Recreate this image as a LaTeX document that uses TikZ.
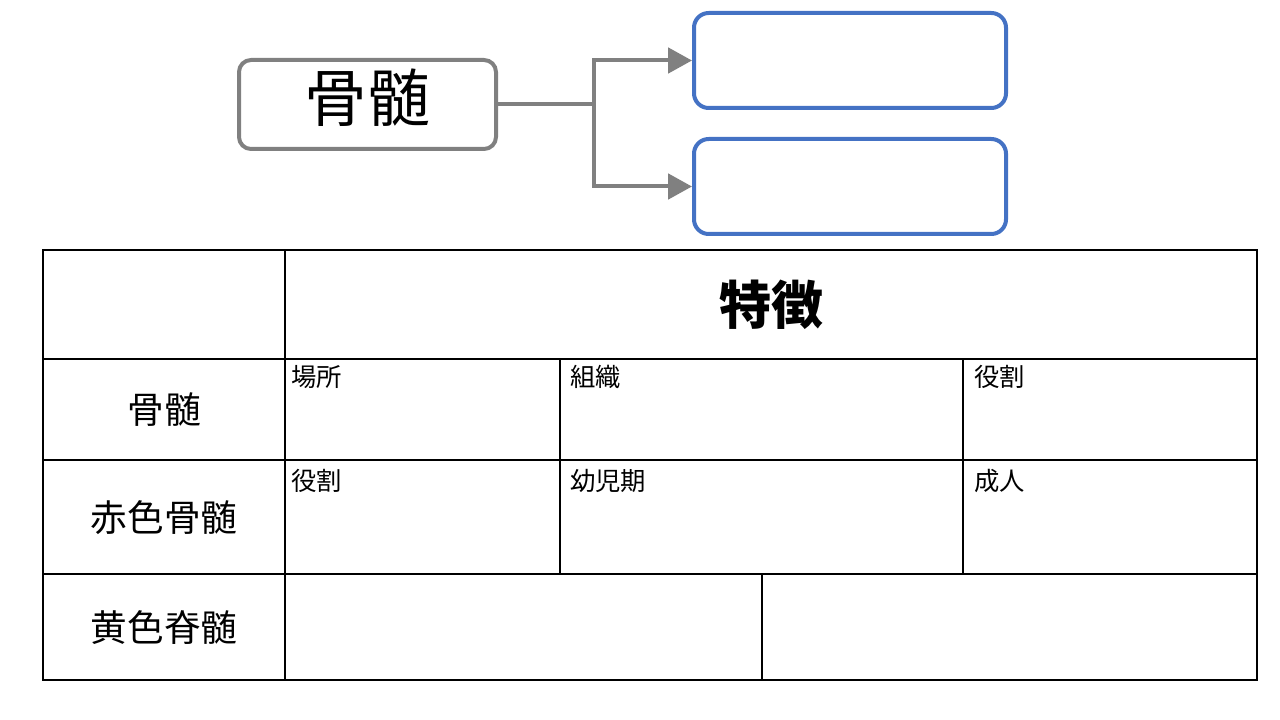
\documentclass[tikz,border=0pt]{standalone}
\usepackage{fontspec}
\setmainfont{Noto Sans CJK JP}
\usetikzlibrary{arrows.meta}
\definecolor{grayline}{HTML}{808080}
\definecolor{blueline}{HTML}{4472C4}
\tikzset{
  px/.style={x=0.75pt,y=-0.75pt},
  srcbox/.style={draw=grayline,line width=3pt,rounded corners=9pt,minimum width=192.75pt,minimum height=66.75pt,inner sep=0pt,text height=25pt,text depth=0pt,font=\fontsize{47}{47}\selectfont},
  dstbox/.style={draw=blueline,line width=3pt,rounded corners=11pt,minimum width=234pt,minimum height=71.25pt,inner sep=0pt},
  conn/.style={draw=grayline,line width=3pt,-{Triangle[length=18pt,width=19pt]}},
  grid/.style={draw=black,line width=1.3pt},
  rowlab/.style={font=\fontsize{27.5}{27.5}\selectfont,inner sep=0pt},
  celllab/.style={font=\fontsize{19}{19}\selectfont,inner sep=0pt,anchor=north west}
}
\begin{document}
\begin{tikzpicture}[px]
\useasboundingbox (0,0) rectangle (1280,720);
% top diagram
\node[srcbox] (src) at (367.5,104.5) {骨髄};
\node[dstbox] (d1) at (850,60.5) {};
\node[dstbox] (d2) at (850,186.5) {};
\coordinate (j) at (594,104.5);
\draw[draw=grayline,line width=3pt] (src.east) -- (j);
\draw[conn] (j) |- (d1.west);
\draw[conn] (j) |- (d2.west);
% table
\draw[grid] (43,250) rectangle (1257,680);
\draw[grid] (43,359) -- (1257,359);
\draw[grid] (43,460) -- (1257,460);
\draw[grid] (43,574) -- (1257,574);
\draw[grid] (285,250) -- (285,680);
\draw[grid] (560,359) -- (560,574);
\draw[grid] (963,359) -- (963,574);
\draw[grid] (762,574) -- (762,680);
\node[font=\fontsize{39}{39}\selectfont\bfseries,inner sep=0pt] (h) at (771,305) {特徴};
\node[rowlab] (r1) at (164,410) {骨髄};
\node[rowlab] (r2) at (164,518) {赤色骨髄};
\node[rowlab] (r3) at (164,628) {黄色脊髄};
\node[celllab] (c11) at (291,365) {場所};
\node[celllab] (c12) at (570,365) {組織};
\node[celllab] (c13) at (974,365) {役割};
\node[celllab] (c21) at (291,469) {役割};
\node[celllab] (c22) at (570,469) {幼児期};
\node[celllab] (c23) at (974,469) {成人};
\end{tikzpicture}
\end{document}
